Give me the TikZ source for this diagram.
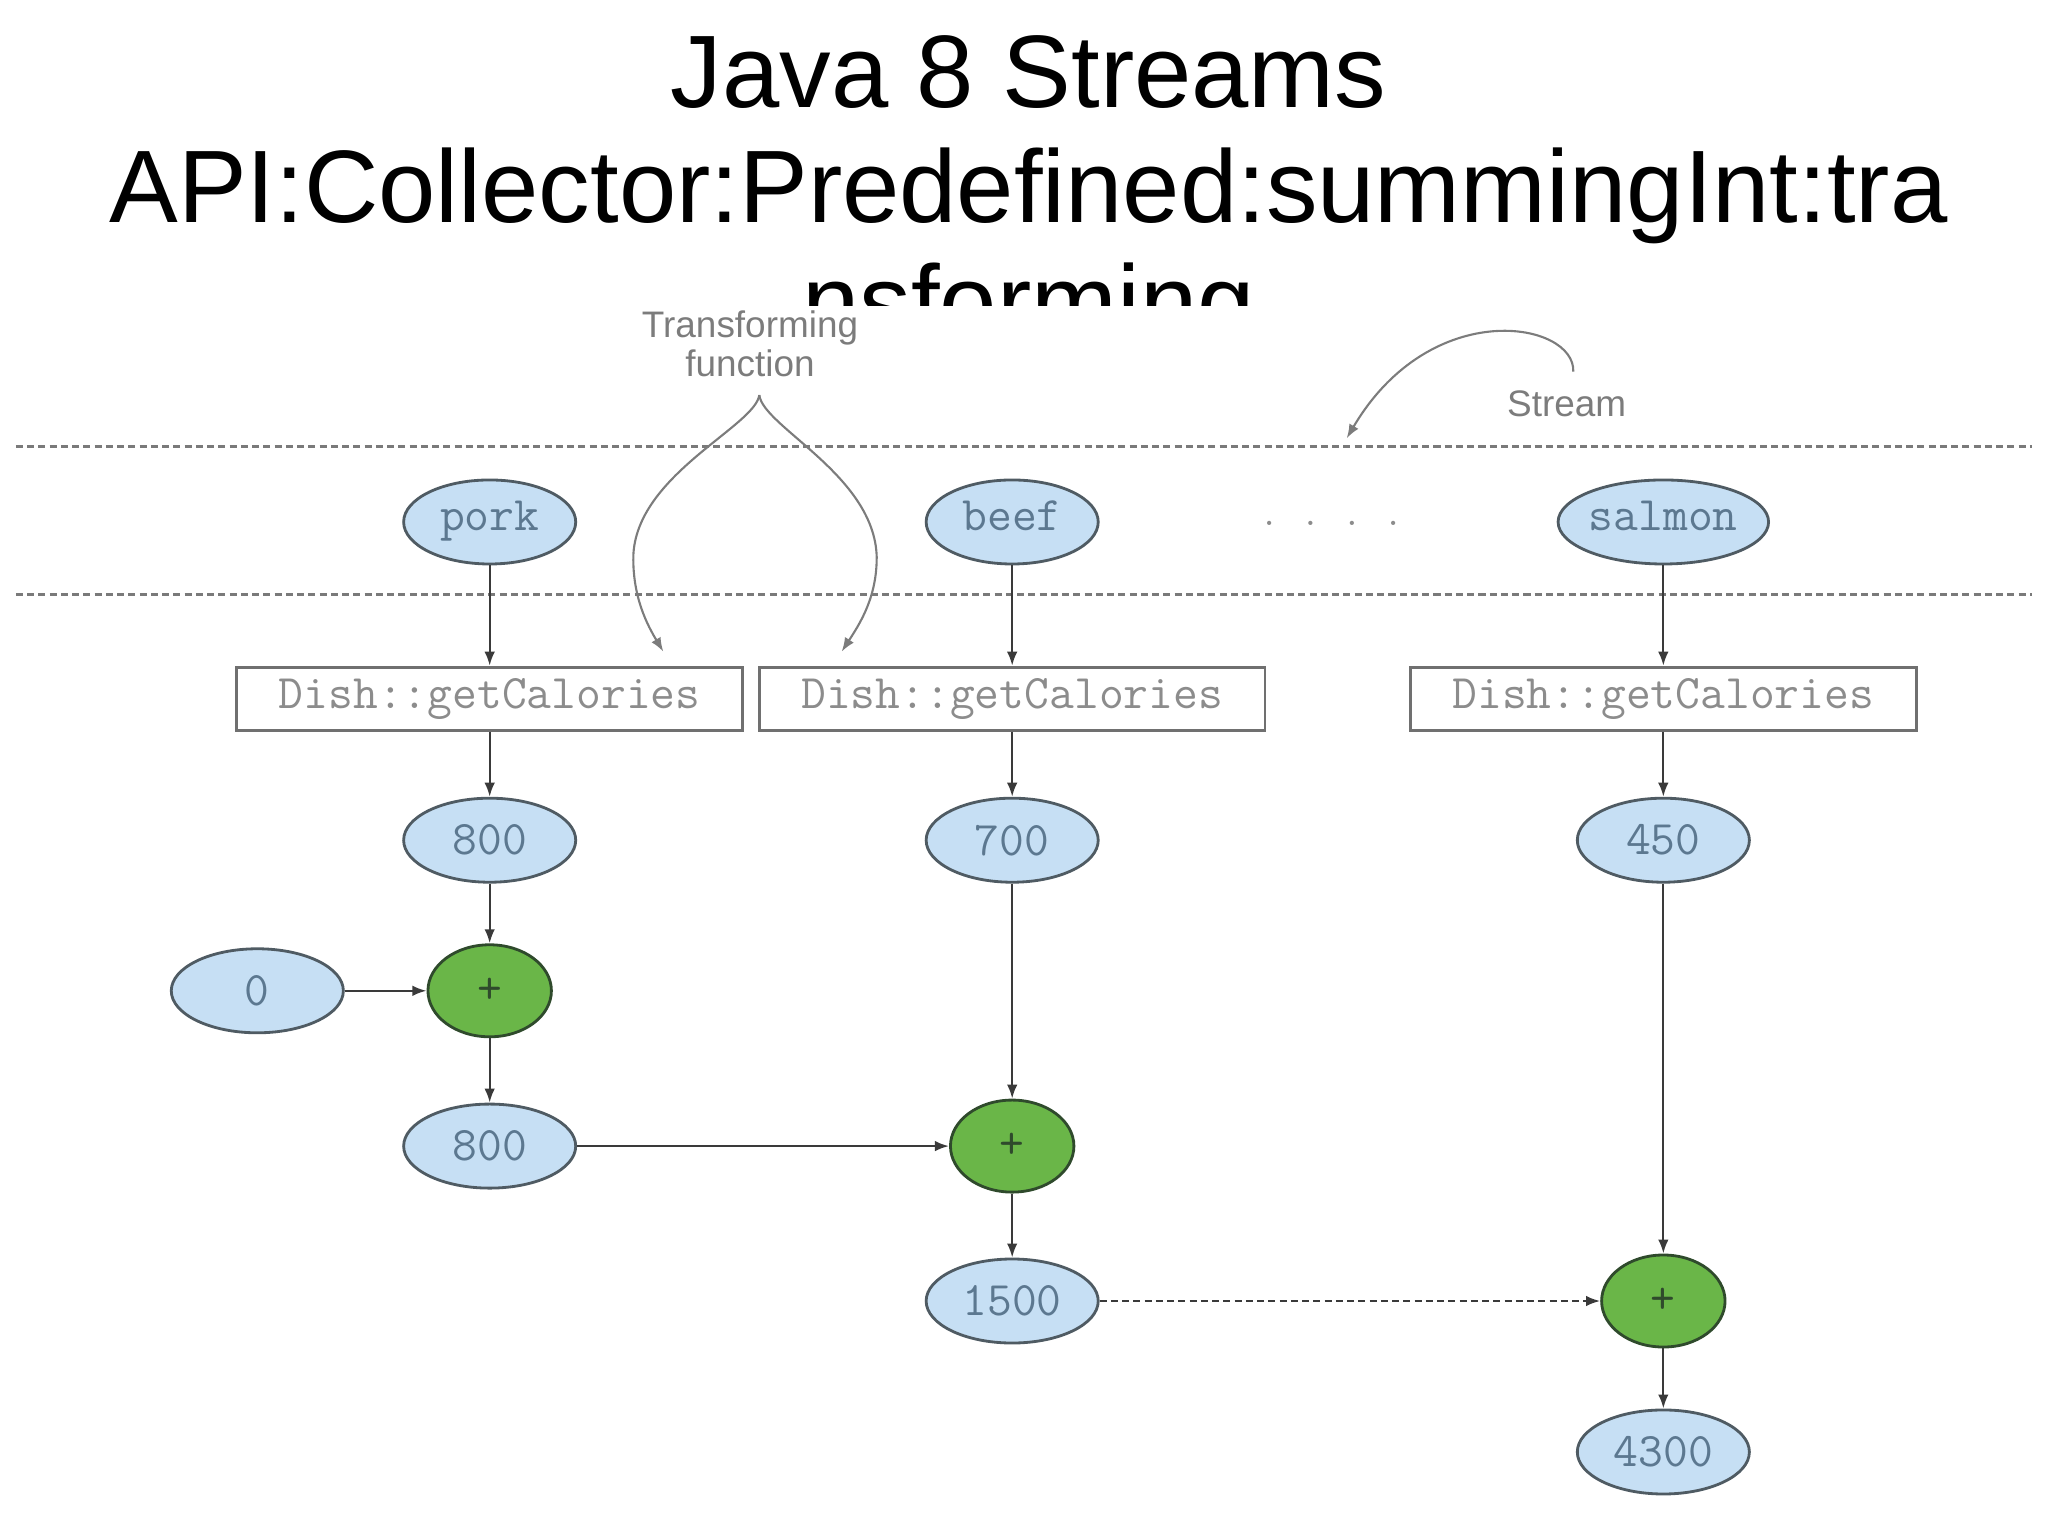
\documentclass[tikz,border=0pt]{standalone}
\usepackage{fontspec}
\setmainfont{Liberation Sans}
\usetikzlibrary{arrows.meta,positioning}
\usetikzlibrary{shapes.geometric}
\definecolor{itemblue}{HTML}{C6DFF4}
\definecolor{itemedge}{HTML}{4F5B63}
\definecolor{itemtext}{HTML}{5C7890}
\definecolor{sumgreen}{HTML}{6AB648}
\definecolor{sumedge}{HTML}{2F4A2C}
\definecolor{boxgrey}{HTML}{707070}
\definecolor{boxtext}{HTML}{8C8C8C}
\definecolor{linegrey}{HTML}{3A3A3A}
\definecolor{rulegrey}{HTML}{7A7A7A}
\definecolor{notegrey}{HTML}{7C7C7C}

\begin{document}
\begin{tikzpicture}
		[x=0.013128cm,y=-0.013128cm,>={Latex[length=4pt,width=3pt]},
		main node/.style={shape=ellipse,draw=itemedge,fill=itemblue,line width=0.8pt,minimum width=1.72cm,minimum height=0.84cm,inner sep=0pt,text=itemtext,font=\fontsize{13.7}{14}\ttfamily},
		stream node/.style={main node,text height=8pt,text depth=3pt},
		sum node/.style={shape=ellipse,draw=sumedge,fill=sumgreen,line width=0.8pt,minimum width=1.234cm,minimum height=0.92cm,inner sep=0pt,text=sumedge,font=\fontsize{13.7}{14}\ttfamily},
		fn node/.style={shape=rectangle,draw=boxgrey,line width=0.8pt,minimum width=5.054cm,minimum height=0.63cm,inner sep=0pt,text=boxtext,font=\fontsize{13.7}{14}\ttfamily},
		note/.style={text=notegrey,font=\fontsize{10.5}{11}\selectfont,align=center}]
		\useasboundingbox (0,0) rectangle (1560,1169.2);
		
		\begin{scope}
		\clip (0,0) rectangle (1560,232.5);
		\node [anchor=north,inner sep=0pt,align=center,font=\fontsize{29.3}{32.6}\selectfont] (title) at (783.5,26.8) {Java 8 Streams\\API:Collector:Predefined:summingInt:tra\\nsforming};
		\end{scope}
		
		\draw [rulegrey,line width=0.8pt,dash pattern=on 2pt off 1.2pt] (12,340.2) -- (1548,340.2);
		\draw [rulegrey,line width=0.8pt,dash pattern=on 2pt off 1.2pt] (12,452.8) -- (1548,452.8);
		
		\node [stream node] (pork) at (373,397.6) {pork};
		\node [stream node] (beef) at (771,397.6) {beef};
		\node [stream node] (salmon) at (1267,397.6) {salmon};
		\node [text=boxtext,font=\fontsize{9.6}{11}\ttfamily] (dots) at (1014,399) {. . . .};
		
		\node [fn node] (fn1) at (373,532.2) {Dish::getCalories};
		\node [fn node] (fn2) at (771,532.2) {Dish::getCalories};
		\node [fn node] (fn3) at (1267,532.2) {Dish::getCalories};
		
		\node [main node] (cal1) at (373,640) {800};
		\node [main node] (cal2) at (771,640) {700};
		\node [main node] (cal3) at (1267,640) {450};
		
		\node [main node] (zero) at (196,754.7) {0};
		\node [sum node] (sum1) at (373,754.7) {+};
		\node [main node] (acc1) at (373,873) {800};
		\node [sum node] (sum2) at (771,873) {+};
		\node [main node] (acc2) at (771,991) {1500};
		\node [sum node] (sum3) at (1267,991) {+};
		\node [main node] (acc3) at (1267,1106) {4300};
		
		\node [note] (fnlabel) at (571.3,262) {Transforming\\function};
		\node [note] (streamlabel) at (1193.4,307.2) {Stream};
		\coordinate (fntip) at (578.4,300.9);
		\coordinate (fnleft) at (505.3,496.4);
		\coordinate (fnright) at (641.1,496.4);
		\coordinate (streamtip) at (1198.4,283.1);
		\coordinate (streamend) at (1025.8,333.9);
		
		\path[->,linegrey,line width=0.65pt]
		(pork) edge (fn1)
		(beef) edge (fn2)
		(salmon) edge (fn3)
		(fn1) edge (cal1)
		(fn2) edge (cal2)
		(fn3) edge (cal3)
		(cal1) edge (sum1)
		(zero) edge (sum1)
		(sum1) edge (acc1)
		(acc1) edge (sum2)
		(cal2) edge (sum2)
		(sum2) edge (acc2)
		(acc2) edge[dash pattern=on 2pt off 1.2pt] (sum3)
		(cal3) edge (sum3)
		(sum3) edge (acc3)
		;
		
		\draw [->,notegrey,line width=0.6pt] (fntip) .. controls (575,325) and (484,362) .. (482.4,424) .. controls (482,455) and (493,476) .. (fnleft);
		\draw [->,notegrey,line width=0.6pt] (fntip) .. controls (581,325) and (666,362) .. (667.8,424) .. controls (668,455) and (655,475) .. (fnright);
		\draw [->,notegrey,line width=0.6pt] (streamtip) .. controls (1200,245) and (1090,225) .. (streamend);
		
\end{tikzpicture}
\end{document}
